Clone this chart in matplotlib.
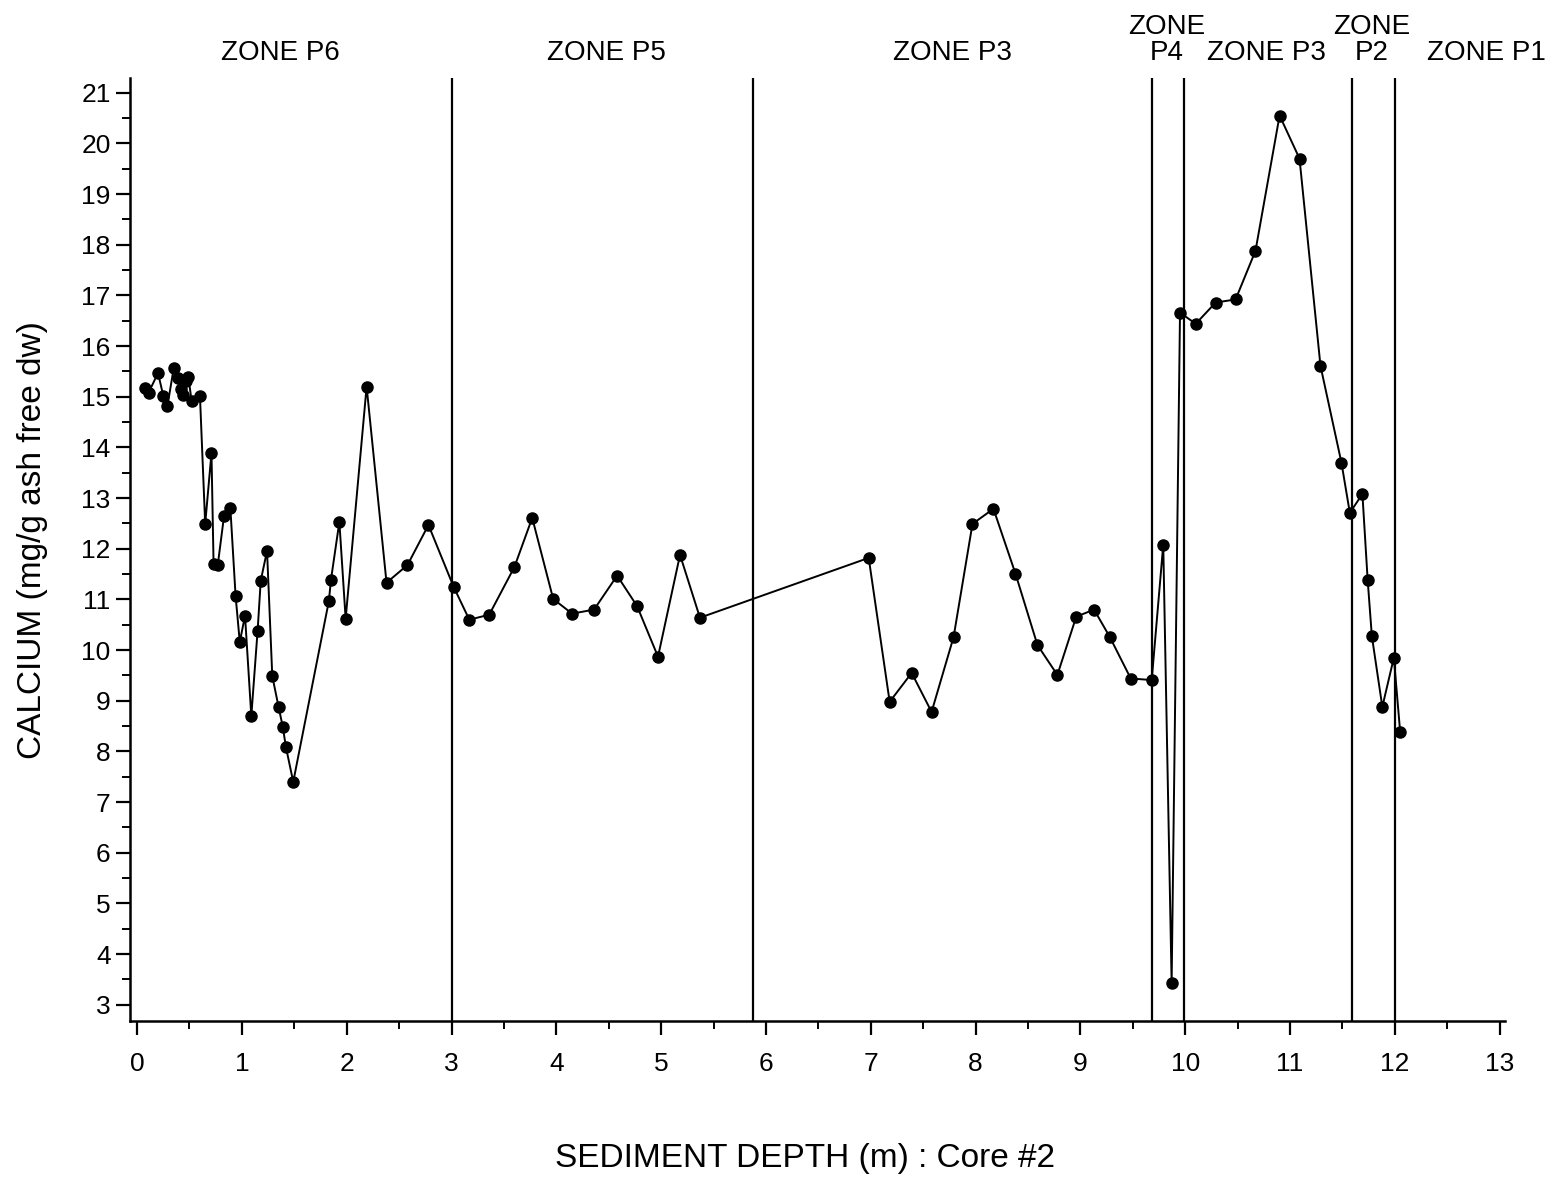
import matplotlib
matplotlib.use("Agg")
import matplotlib.pyplot as plt
from matplotlib.ticker import MultipleLocator

plt.rcParams['font.family'] = ['Liberation Sans', 'DejaVu Sans']

depth = [0.08, 0.11, 0.20, 0.25, 0.29, 0.35, 0.39, 0.42, 0.44, 0.47, 0.49, 0.52, 0.60,
         0.65, 0.71, 0.73, 0.77, 0.83, 0.89, 0.94, 0.98, 1.03, 1.09, 1.15, 1.18, 1.24,
         1.29, 1.35, 1.39, 1.42, 1.49, 1.83, 1.85, 1.93, 1.99, 2.19, 2.38, 2.58, 2.78,
         3.02, 3.17, 3.36, 3.60, 3.77, 3.97, 4.15, 4.36, 4.58, 4.77, 4.97, 5.18, 5.37,
         6.98, 7.18, 7.39, 7.58, 7.79, 7.97, 8.17, 8.38, 8.59, 8.78, 8.96, 9.13, 9.28,
         9.48, 9.68, 9.79, 9.87, 9.95, 10.10, 10.29, 10.48, 10.67, 10.90, 11.09, 11.29,
         11.49, 11.57, 11.69, 11.74, 11.78, 11.88, 11.99, 12.05]
calcium = [15.18, 15.08, 15.47, 15.02, 14.82, 15.57, 15.37, 15.16, 15.04, 15.32, 15.39, 14.92, 15.02,
           12.49, 13.89, 11.70, 11.68, 12.65, 12.81, 11.07, 10.16, 10.68, 8.70, 10.38, 11.37, 11.96,
           9.49, 8.88, 8.49, 8.09, 7.40, 10.97, 11.39, 12.53, 10.62, 15.20, 11.33, 11.68, 12.47,
           11.25, 10.60, 10.70, 11.64, 12.61, 11.01, 10.72, 10.80, 11.47, 10.87, 9.87, 11.88, 10.64,
           11.82, 8.98, 9.55, 8.78, 10.26, 12.49, 12.79, 11.51, 10.10, 9.51, 10.66, 10.80, 10.26,
           9.44, 9.41, 12.08, 3.43, 16.66, 16.44, 16.86, 16.92, 17.88, 20.55, 19.70, 15.61,
           13.70, 12.71, 13.08, 11.39, 10.28, 8.88, 9.85, 8.39]

zone_bounds = [3.0, 5.88, 9.68, 9.99, 11.59, 12.0]
zone_labels = ["ZONE P6", "ZONE P5", "ZONE P3", "ZONE\nP4", "ZONE P3", "ZONE\nP2", "ZONE P1"]
zone_label_x = [1.37, 4.48, 7.78, 9.82, 10.77, 11.78, 12.87]

x_ticks = list(range(0, 14))
y_ticks = list(range(3, 22))

fig = plt.figure(figsize=(15.61, 11.77), dpi=100)
ax = fig.add_axes([0.0833, 0.1325, 0.8808, 0.8012])

for xb in zone_bounds:
    ax.axvline(xb, color='black', lw=1.6)

ax.plot(depth, calcium, color='black', lw=1.4, marker='o', markersize=8,
        markerfacecolor='black', markeredgecolor='black')

ax.set_xlim(-0.067, 13.05)
ax.set_ylim(2.68, 21.29)
ax.set_xticks(x_ticks)
ax.set_yticks(y_ticks)
ax.xaxis.set_minor_locator(MultipleLocator(0.5))
ax.yaxis.set_minor_locator(MultipleLocator(0.5))
ax.tick_params(axis='both', which='major', direction='out', length=10, width=1.6,
               labelsize=19, colors='black')
ax.tick_params(axis='both', which='minor', direction='out', length=6, width=1.4)
ax.tick_params(axis='x', pad=12)
ax.tick_params(axis='y', pad=4)

for s in ['top', 'right']:
    ax.spines[s].set_visible(False)
for s in ['left', 'bottom']:
    ax.spines[s].set_linewidth(1.8)

for lab, lx in zip(zone_labels, zone_label_x):
    ax.text(lx, 1.019, lab, transform=ax.get_xaxis_transform(), ha='center',
            va='baseline', fontsize=20, linespacing=1.0)

fig.text(33 / 1561, 1 - 540 / 1177, "CALCIUM (mg/g ash free dw)", rotation=90,
         ha='center', va='center', fontsize=24)
fig.text(805 / 1561, 1 - 1158 / 1177, "SEDIMENT DEPTH (m) : Core #2",
         ha='center', va='center', fontsize=24)

fig.savefig("out.png", dpi=100)
